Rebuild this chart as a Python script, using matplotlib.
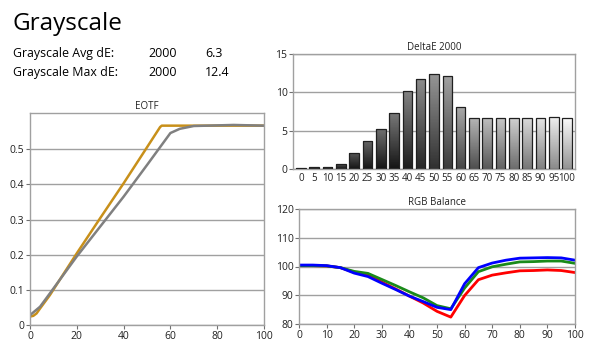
import numpy as np
import matplotlib
matplotlib.use("Agg")
from matplotlib import pyplot as plt

plt.rcParams['font.family'] = ['Open Sans', 'DejaVu Sans']

# summary text
stat_labels = ["Grayscale Avg dE:", "Grayscale Max dE:"]
stat_std = ["2000", "2000"]
stat_vals = ["6.3", "12.4"]

# EOTF
eotf_x = [0, 1.4, 2.8, 4.3, 8.5, 20, 30, 40, 48.4, 55.6, 56.3, 70, 100]
eotf_meas = [0.024, 0.026, 0.033, 0.047, 0.085, 0.204, 0.304, 0.403, 0.489, 0.563, 0.567, 0.567, 0.567]
eotf_tx = [0, 4.3, 8.5, 20, 30, 40, 50, 60, 64, 70, 87, 100]
eotf_target = [0.028, 0.052, 0.09, 0.195, 0.28, 0.365, 0.455, 0.546, 0.558, 0.566, 0.569, 0.567]

# DeltaE bars
levels = list(range(0, 101, 5))
delta_e = [0.1, 0.3, 0.3, 0.6, 2.1, 3.6, 5.2, 7.3, 10.2, 11.8, 12.4, 12.1, 8.1,
           6.6, 6.6, 6.7, 6.7, 6.7, 6.7, 6.8, 6.6]

# RGB balance
red = [100.3, 100.3, 100.2, 99.6, 98.0, 97.0, 94.6, 92.2, 89.7, 87.3, 84.4, 82.4,
       89.9, 95.4, 97.0, 97.8, 98.5, 98.6, 98.8, 98.6, 97.9]
green = [100.3, 100.3, 100.2, 99.6, 98.3, 97.6, 95.5, 93.4, 91.2, 89.1, 86.4, 85.3,
         92.5, 98.2, 99.9, 100.8, 101.6, 101.7, 101.9, 101.9, 101.1]
blue = [100.5, 100.5, 100.3, 99.6, 97.7, 96.5, 94.2, 92.0, 89.7, 87.8, 85.8, 85.0,
        94.0, 99.6, 101.2, 102.2, 102.9, 103.0, 103.1, 103.0, 102.2]

W, H = 600, 359
fig = plt.figure(figsize=(6, 3.59), dpi=100)


def px_axes(left, top, right, bottom):
    return fig.add_axes([left / W, 1 - bottom / H, (right - left) / W, (bottom - top) / H])


def style(ax, title):
    ax.set_title(title, fontsize=7, pad=3, color="#222222")
    for s in ax.spines.values():
        s.set_color("#a0a0a0")
        s.set_linewidth(1)
    ax.yaxis.grid(True, color="#a0a0a0", linewidth=1)
    ax.set_axisbelow(True)
    ax.tick_params(labelsize=7.5, length=3, width=0.8, color="#707070", pad=1, labelcolor="#222222")


fig.text(12 / W, 1 - 30 / H, "Grayscale", fontsize=17.5, color="black")
for i in range(2):
    y = 1 - (57 + 19 * i) / H
    fig.text(13 / W, y, stat_labels[i], fontsize=8.9)
    fig.text(148 / W, y, stat_std[i], fontsize=8.9)
    fig.text(205 / W, y, stat_vals[i], fontsize=8.9)

# EOTF
ax1 = px_axes(30, 113, 264, 325)
style(ax1, "EOTF")
ax1.plot(eotf_x, eotf_meas, color="#c8901a", lw=1.8)
ax1.plot(eotf_tx, eotf_target, color="#808080", lw=1.8)
ax1.set_xlim(0, 100)
ax1.set_ylim(0, 0.603)
ax1.set_xticks(range(0, 101, 20))
ax1.set_yticks([0, 0.1, 0.2, 0.3, 0.4, 0.5])
ax1.set_yticklabels(["0", "0.1", "0.2", "0.3", "0.4", "0.5"])

# DeltaE
ax2 = px_axes(293, 54, 575, 169)
style(ax2, "DeltaE 2000")
pos = np.arange(len(levels))
bars = ax2.bar(pos, delta_e, width=0.72, color="none", edgecolor="#202020", linewidth=0.9, zorder=3)
for k, b in enumerate(bars):
    # shading: lighter at the top of each bar, darker toward the base
    base = 0.2 + 0.78 * k / (len(levels) - 1)
    grad = np.linspace(base, max(base - 0.4, 0.08), 64).reshape(-1, 1)
    x0, y0 = b.get_x(), b.get_y()
    im = ax2.imshow(grad, cmap="gray", vmin=0, vmax=1, aspect="auto",
                    extent=(x0, x0 + b.get_width(), y0, y0 + b.get_height()),
                    origin="upper", zorder=2)
    im.set_clip_path(b)
ax2.set_aspect("auto")
ax2.set_xlim(-0.6, len(levels) - 0.4)
ax2.set_ylim(0, 15)
ax2.set_xticks(pos)
ax2.set_xticklabels([str(v) for v in levels], fontsize=7)
ax2.set_yticks([0, 5, 10, 15])
ax2.tick_params(axis="x", length=0, pad=3)

# RGB balance
ax3 = px_axes(299, 209, 575, 324)
style(ax3, "RGB Balance")
ax3.plot(levels, red, color="#ff0000", lw=2)
ax3.plot(levels, green, color="#1a8a1a", lw=2)
ax3.plot(levels, blue, color="#0000ff", lw=2)
ax3.set_xlim(0, 100)
ax3.set_ylim(80, 120)
ax3.set_xticks(range(0, 101, 10))
ax3.set_yticks([80, 90, 100, 110, 120])

fig.savefig("out.png", dpi=100)
